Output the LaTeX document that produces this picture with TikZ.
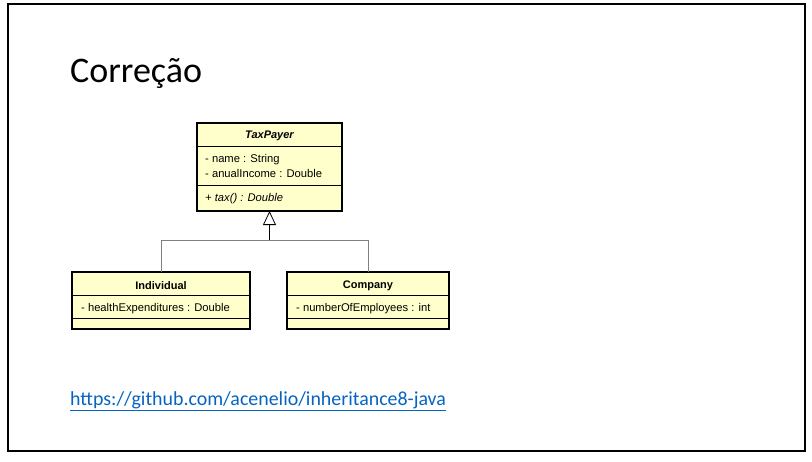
\documentclass[tikz,border=0pt]{standalone}
\usepackage{fontspec}
\setmainfont{Carlito}
\newfontfamily\umlfont{Liberation Sans}
\usepackage{tikz}
\usetikzlibrary{arrows.meta,positioning,calc}
\definecolor{umlyellow}{RGB}{255,255,204}
\definecolor{linkblue}{RGB}{5,99,193}
\definecolor{darkgray}{rgb}{0.502, 0.502, 0.502}

\begin{document}
\begin{tikzpicture}[x=1pt,y=-1pt,
    classbox/.style={draw=black, line width=1.6pt, fill=umlyellow, inner sep=0pt, outer sep=0pt},
    classname/.style={inner sep=0pt, font=\umlfont\bfseries\fontsize{11}{13}\selectfont},
    member/.style={anchor=base west, inner sep=0pt, font=\umlfont\fontsize{11.2}{13}\selectfont},
    divider/.style={line width=0.8pt}
]
    \def\rowh{23} % height of the name compartment

    % slide frame
    \useasboundingbox (0,0) rectangle (812,461);
    \draw[line width=2pt] (8,4) rectangle (805,451);

    % slide title
    \node[anchor=base west, inner sep=0pt, font=\fontsize{36}{42}\selectfont] (title) at (70,82) {Correção};

    % superclass
    \node[classbox, minimum width=145pt, minimum height=88pt] (tp) at (269.5,167) {};
    \draw[divider] ($(tp.north west)+(0,\rowh)$) -- ($(tp.north east)+(0,\rowh)$);
    \draw[divider] ($(tp.north west)+(0,62)$) -- ($(tp.north east)+(0,62)$);
    \node[classname, font=\umlfont\bfseries\itshape\fontsize{11}{13}\selectfont] (tpname) at ($(tp.north)+(0,13)$) {TaxPayer};
    \node[member] (tpname1) at ($(tp.north west)+(8,39)$) {- name : String};
    \node[member] (tpname2) at ($(tp.north west)+(8,54)$) {- anualIncome : Double};
    \node[member, font=\umlfont\itshape\fontsize{11.2}{13}\selectfont] (tptax) at ($(tp.north west)+(8,78)$) {+ tax() : Double};

    % subclasses
    \foreach \name/\x/\w/\text/\attr in
    {
        ind/161/178/Individual/- healthExpenditures : Double,
        comp/368/162/Company/- numberOfEmployees : int
    } {
        \node[classbox, minimum width=\w pt, minimum height=57pt] (\name) at (\x,300.5) {};
        \draw[divider] ($(\name.north west)+(0,\rowh)$) -- ($(\name.north east)+(0,\rowh)$);
        \draw[divider] ($(\name.north west)+(0,46)$) -- ($(\name.north east)+(0,46)$);
        \node[classname] (\name title) at ($(\name.north)+(0,13.5)$) {\text};
        \node[member] (\name attr) at ($(\name.north west)+(9,39.5)$) {\attr};
    }

    % generalization
    \coordinate (jn) at ($(tp.south)+(0,29)$);
    \draw[line width=0.8pt, -{Triangle[open, length=14pt, width=13pt, line width=0.8pt]}] (jn) -- (tp.south);
    \draw[darkgray, line width=0.8pt] (ind.north) |- (jn);
    \draw[darkgray, line width=0.8pt] (comp.north) |- (jn);

    % repository link
    \node[anchor=base west, inner sep=0pt, text=linkblue, font=\fontsize{19.9}{23}\selectfont] (link) at (70,405) {\underline{https://github.com/acenelio/inheritance8-java}};
\end{tikzpicture}
\end{document}
